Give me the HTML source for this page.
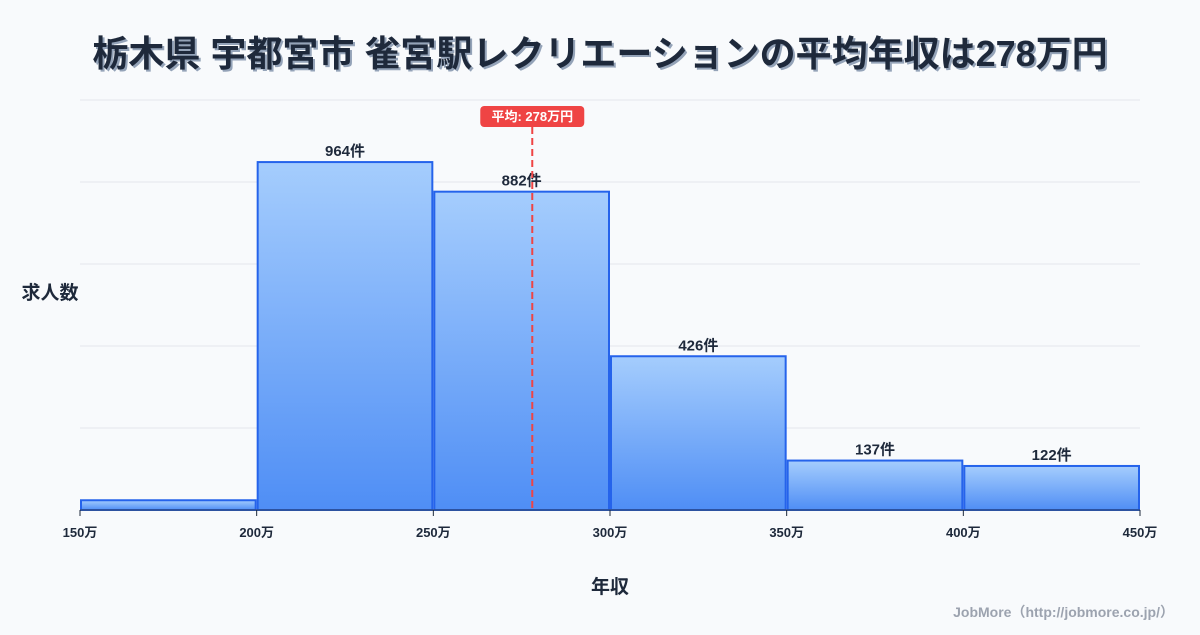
<!DOCTYPE html>
<html><head><meta charset="utf-8"><style>
html,body{margin:0;padding:0;background:#f8fafc;}
body{width:1200px;height:630px;overflow:hidden;font-family:"Liberation Sans","Noto Sans CJK JP",sans-serif;}
</style></head><body>
<svg id="chart" width="1200" height="630" xmlns="http://www.w3.org/2000/svg" style="font-family:'Liberation Sans','Noto Sans CJK JP',sans-serif">
<defs>
<linearGradient id="g" x1="0" y1="0" x2="0" y2="1"><stop offset="0" stop-color="#a5cdfd"/><stop offset="1" stop-color="#4f8ef5"/></linearGradient>
</defs>
<text x="602" y="68" text-anchor="middle" font-size="36" font-weight="bold" fill="#94a3b8">栃木県 宇都宮市 雀宮駅レクリエーションの平均年収は278万円</text>
<text x="600" y="66" text-anchor="middle" font-size="36" font-weight="bold" fill="#1e293b">栃木県 宇都宮市 雀宮駅レクリエーションの平均年収は278万円</text>
<g id="grid"></g><g id="bars"></g><g id="axis"></g><g id="mean"></g>
<text x="50" y="299" text-anchor="middle" font-size="19" font-weight="bold" fill="#1e293b">求人数</text>
<text x="610" y="593" text-anchor="middle" font-size="19" font-weight="bold" fill="#1e293b">年収</text>
<text x="1174" y="617" text-anchor="end" font-size="14" font-weight="bold" fill="#9ca3af">JobMore（http://jobmore.co.jp/）</text>
</svg>
<script>
const binStarts=[150,200,250,300,350,400];
const binEnds=[200,250,300,350,400,450];
const counts=[27,964,882,426,137,122];
const showLabel=[false,true,true,true,true,true];
const xTicks=[150,200,250,300,350,400,450];
const meanValue=278;
const NS="http://www.w3.org/2000/svg";
const x=v=>80+(v-150)*(1060/300);
const y=v=>510-v*(410/1136);
function el(t,a,p,txt){const e=document.createElementNS(NS,t);for(const k in a)e.setAttribute(k,a[k]);if(txt!=null)e.textContent=txt;document.getElementById(p).appendChild(e);return e;}
for(let i=0;i<=5;i++){const gy=510-i*82;const l=el('line',{x1:80,x2:1140,y1:gy,y2:gy,stroke:'#e5e7eb','stroke-width':1},'grid');

}
counts.forEach((c,i)=>{const x0=x(binStarts[i])+1,x1=x(binEnds[i])-1;
const r=el('rect',{x:x0,y:y(c),width:x1-x0,height:510-y(c),fill:'url(#g)',stroke:'#2563eb','stroke-width':2},'bars');


if(showLabel[i]){const t=el('text',{x:(x0+x1)/2,y:y(c)-6,'text-anchor':'middle','font-size':15,'font-weight':'bold',fill:'#1e293b'},'bars',c+'件');

}});
const base=el('line',{x1:80,x2:1140,y1:510,y2:510,stroke:'#334155','stroke-width':1},'axis');


xTicks.forEach(v=>{const tk=el('line',{x1:x(v),x2:x(v),y1:510,y2:516,stroke:'#1e293b'},'axis');


const t=el('text',{x:x(v),y:537,'text-anchor':'middle','font-size':13,'font-weight':'bold',fill:'#1e293b'},'axis',v+'万');

});
const mx=x(meanValue);
const ml=el('line',{x1:mx,x2:mx,y1:127,y2:510,stroke:'#ef4444','stroke-width':2,'stroke-dasharray':'7,4'},'mean');


const mb=el('rect',{x:mx-52,y:106,width:104,height:21,rx:4,fill:'#ef4444'},'mean');


const mt=el('text',{x:mx,y:121,'text-anchor':'middle','font-size':13,'font-weight':'bold',fill:'#fff'},'mean','平均: '+meanValue+'万円');


</script>
</body></html>
